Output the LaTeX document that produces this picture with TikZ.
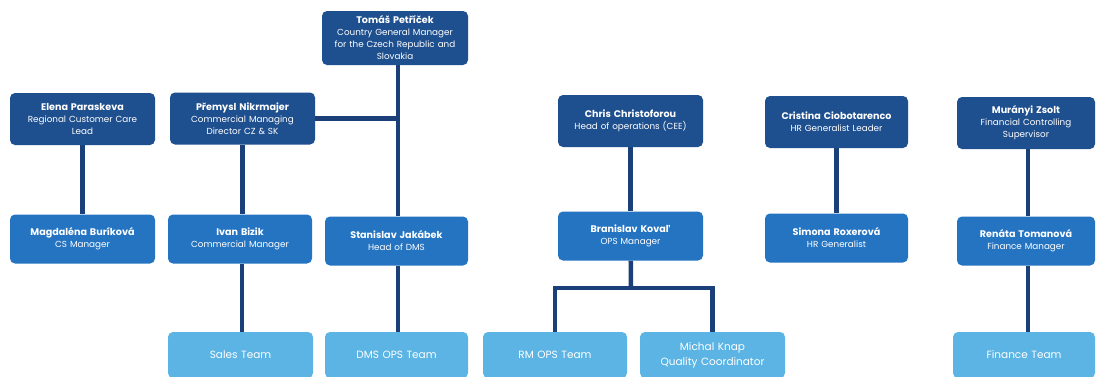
\documentclass[tikz,border=0pt]{standalone}
\usepackage{fontspec}
\setmainfont{Poppins}
\usetikzlibrary{backgrounds}
\definecolor{dk}{HTML}{1E4F8E}
\definecolor{md}{HTML}{2474C2}
\definecolor{lt}{HTML}{5BB4E4}
\definecolor{ln}{HTML}{1B3F78}
\newcommand{\nm}[1]{{\fontsize{9.6}{12}\selectfont\bfseries #1}}
\tikzset{
  box/.style={rounded corners=5pt, text=white, align=center, inner sep=0pt, text width=142pt, minimum width=145pt, font=\fontsize{8.8}{12}\selectfont},
  bdk/.style={box, fill=dk, minimum height=52pt},
  bmd/.style={box, fill=md, minimum height=49pt},
  blt/.style={box, fill=lt, minimum height=46pt, font=\fontsize{10.5}{15}\selectfont},
  conn/.style={draw=ln, line width=4.5pt}
}
\begin{document}
\begin{tikzpicture}[x=1pt,y=-1pt]
\useasboundingbox (0,0) rectangle (1096,376);
% row 0
\node[bdk, minimum width=146pt, minimum height=54pt] (tomas) at (395,38) {\nm{Tomáš Petříček}\\Country General Manager\\for the Czech Republic and\\Slovakia};
% row 1
\node[bdk] (elena) at (82.5,119) {\nm{Elena Paraskeva}\\Regional Customer Care\\Lead};
\node[bdk] (premysl) at (242.5,118.5) {\nm{Přemysl Nikrmajer}\\Commercial Managing\\Director CZ \& SK};
\node[bdk] (chris) at (630.5,121) {\nm{Chris Christoforou}\\Head of operations (CEE)};
\node[bdk, minimum width=143pt] (cristina) at (836.5,122) {\nm{Cristina Ciobotarenco}\\HR Generalist Leader};
\node[bdk, minimum width=138pt, text width=136pt] (muranyi) at (1026,123) {\nm{Murányi Zsolt}\\Financial Controlling\\Supervisor};
% row 2
\node[bmd] (magda) at (82.5,239) {\nm{Magdaléna Buríková}\\CS Manager};
\node[bmd, minimum width=144pt] (ivan) at (240,239) {\nm{Ivan Bizik}\\Commercial Manager};
\node[bmd, minimum width=143pt] (stan) at (396.5,241) {\nm{Stanislav Jakábek}\\Head of DMS};
\node[bmd] (bran) at (630.5,236) {\nm{Branislav Kovaľ}\\OPS Manager};
\node[bmd, minimum width=143pt] (simona) at (836.5,238) {\nm{Simona Roxerová}\\HR Generalist};
\node[bmd, minimum width=138pt, text width=136pt] (renata) at (1026,241) {\nm{Renáta Tomanová}\\Finance Manager};
% row 3
\node[blt] (sales) at (240.5,355) {Sales Team};
\node[blt, minimum width=143pt] (dmsops) at (396.5,355) {DMS OPS Team};
\node[blt, minimum width=144pt] (rmops) at (555,355) {RM OPS Team};
\node[blt] (michal) at (712.5,355) {Michal Knap\\Quality Coordinator};
\node[blt, minimum width=142pt, text width=138pt] (finance) at (1024,355) {Finance Team};
\coordinate (bj) at (631,288);
\coordinate (tj) at ([xshift=3pt]tomas.south);
\coordinate (ij) at ([xshift=2pt]ivan.south);
\begin{scope}[on background layer]
\fill[white] (0,0) rectangle (1096,376);
\draw[conn] (elena) -- (magda);
\draw[conn] (premysl) -- (ivan.north -| premysl.south);
\draw[conn] (ij) -- (ij |- sales.north);
\draw[conn] (tj) -- (tj |- stan.north);
\draw[conn] (premysl.east) -- (premysl.east -| tj);
\draw[conn] ([xshift=1.5pt]stan.south) -- ([xshift=1.5pt]dmsops.north);
\draw[conn] (chris) -- (bran);
\draw[conn] (bran) -- (bj);
\draw[conn] (rmops.north) |- (bj) -| (michal.north);
\draw[conn] (cristina) -- (simona);
\draw[conn] ([xshift=2pt]muranyi.south) -- ([xshift=2pt]renata.north);
\draw[conn] ([xshift=2pt]renata.south) -- ([xshift=4pt]finance.north);
\end{scope}
\end{tikzpicture}
\end{document}
